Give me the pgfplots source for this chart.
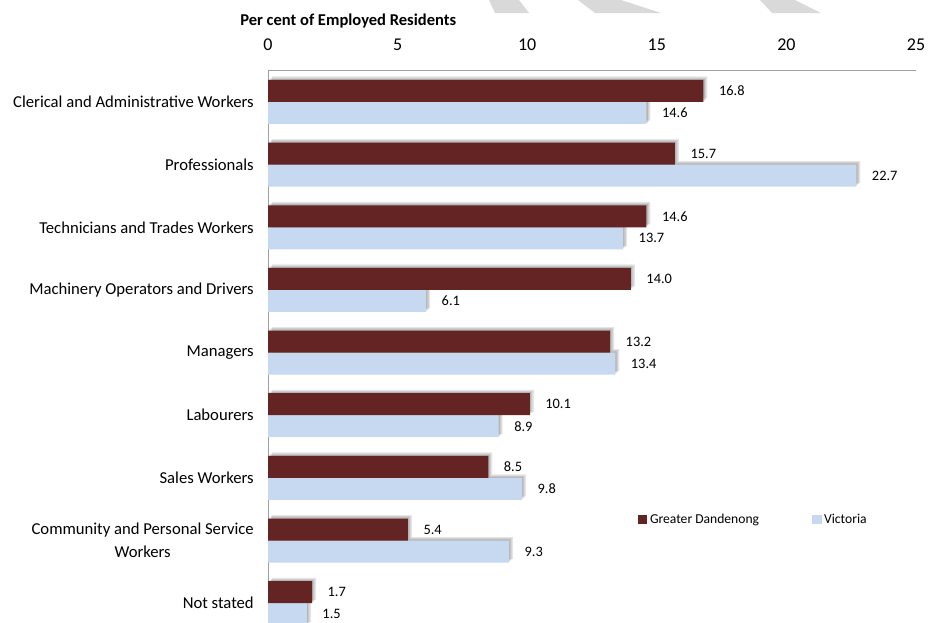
\documentclass[border=0pt]{standalone}
\usepackage{fontspec}
\setmainfont{Carlito}
\usepackage{pgfplots}
\pgfplotsset{compat=1.18}
\definecolor{dd}{RGB}{99,36,35}
\definecolor{vic}{RGB}{198,217,241}
\definecolor{wm}{RGB}{217,217,217}
\pgfplotsset{sqlegend/.style={legend image code/.code={\fill[##1] (0pt,-3.4pt) rectangle (6.8pt,3.4pt);}}}
\tikzset{softshadow/.style={
  preaction={fill=black, fill opacity=0.10, transform canvas={shift={(3.0pt,2.6pt)}}},
  preaction={fill=black, fill opacity=0.10, transform canvas={shift={(2.0pt,1.8pt)}}},
  preaction={fill=black, fill opacity=0.12, transform canvas={shift={(1.0pt,0.9pt)}}}}}
\begin{document}
\begin{tikzpicture}
\begin{scope}[x=0.75pt,y=-0.75pt]
\useasboundingbox (0,0) rectangle (929,622);
\fill[wm] (489,0) -- (519,0) -- (529,13) -- (495,13) -- cycle;
\fill[wm] (578,0) -- (621,0) -- (661,13) -- (595,13) -- cycle;
\fill[wm] (760,0) -- (795,0) -- (821,13) -- (772,13) -- cycle;
\node[anchor=west,font=\bfseries\fontsize{12.4}{14}\selectfont,inner sep=0pt] at (240,21) {Per cent of Employed Residents};
\end{scope}
\begin{axis}[
  at={(201pt,-466.5pt)}, anchor=south west,
  width=486pt, height=414pt, scale only axis,
  xbar, bar width=16.5pt,
  xmin=0, xmax=25, ymin=-0.51, ymax=8.3, y dir=reverse,
  axis x line*=top, axis y line*=left,
  axis line style={draw=gray!75,-},
  xtick={0,5,10,15,20,25}, ytick={0,1,2,3,4,5,6,7,8},
  yticklabels={Clerical and Administrative Workers,Professionals,Technicians and Trades Workers,Machinery Operators and Drivers,Managers,Labourers,Sales Workers,{Community and Personal Service\\Workers},Not stated},
  major tick length=0pt,
  /pgf/number format/assume math mode=true,
  xticklabel style={font=\fontsize{13.5}{15}\selectfont, anchor=south, inner sep=0pt, yshift=14pt},
  yticklabel style={font=\fontsize{12.5}{17}\selectfont, align=center, anchor=east, inner sep=0pt, xshift=-10.5pt},
  nodes near coords={\pgfmathprintnumber[fixed,fixed zerofill,precision=1]{\pgfplotspointmeta}},
  nodes near coords style={font=\fontsize{10.8}{12}\selectfont, anchor=west, inner sep=0pt, xshift=11.5pt, text=black},
  legend style={at={(0.571,0.185)}, anchor=west, draw=none, fill=none, font=\fontsize{10.2}{12}\selectfont, inner sep=0pt, /tikz/every even column/.append style={column sep=38pt}},
  legend columns=2,
]
\addlegendimage{sqlegend, fill=dd, draw=none}
\addlegendentry{Greater Dandenong}
\addlegendimage{sqlegend, fill=vic, draw=none}
\addlegendentry{Victoria}
\addplot[forget plot, fill=vic, draw=none, bar shift=-8.25pt, softshadow] coordinates {
(14.6,0) (22.7,1) (13.7,2) (6.1,3) (13.4,4) (8.9,5) (9.8,6) (9.3,7) (1.5,8)};
\addplot[forget plot, fill=dd, draw=none, bar shift=8.25pt, softshadow] coordinates {
(16.8,0) (15.7,1) (14.6,2) (14.0,3) (13.2,4) (10.1,5) (8.5,6) (5.4,7) (1.7,8)};
\end{axis}
\end{tikzpicture}
\end{document}
